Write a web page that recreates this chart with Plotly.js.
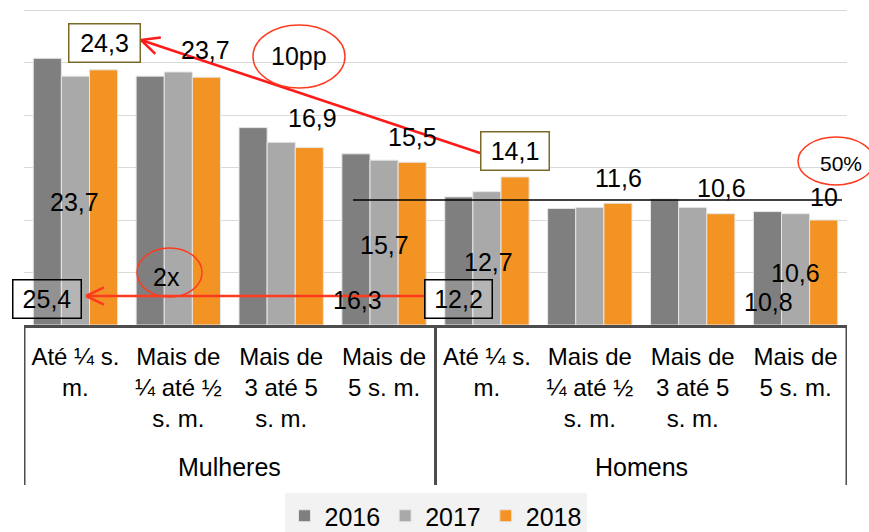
<!DOCTYPE html>
<html>
<head>
<meta charset="utf-8">
<script src="https://cdn.plot.ly/plotly-3.0.1.min.js"></script>
<style>html,body{margin:0;padding:0;background:#fff}</style>
</head>
<body>
<div id="chart" style="width:869px;height:532px"></div>
<script>
// ---- data ----
const groups = ['Mulheres','Mulheres','Mulheres','Mulheres','Homens','Homens','Homens','Homens'];
const categories = ['Até ¼ s.<br>m.','Mais de<br>¼ até ½<br>s. m.','Mais de<br>3 até 5<br>s. m.','Mais de<br>5 s. m.',
                    'Até ¼ s.<br>m.','Mais de<br>¼ até ½<br>s. m.','Mais de<br>3 até 5<br>s. m.','Mais de<br>5 s. m.'];
const seriesNames = ['2016','2017','2018'];
const v2016 = [25.4, 23.7, 18.8, 16.3, 12.2, 11.1, 12.0, 10.8];
const v2017 = [23.7, 24.1, 17.4, 15.7, 12.7, 11.2, 11.2, 10.6];
const v2018 = [24.3, 23.6, 16.9, 15.5, 14.1, 11.6, 10.6, 10.0];
const colors = ['#7f7f7f','#a9a9a9','#f39324'];

// ---- pixel helpers for annotations ----
const L = 24, R = 847, T = 5, B = 325;
const px = x => (x - L) / (R - L);
const py = y => (B - y) / (B - T);

const FONT = 'Liberation Sans, Arial, sans-serif';
const idx = categories.map((_, i) => i);
const vals = [v2016, v2017, v2018];
const traces = vals.map((v, i) => ({
  type: 'bar',
  name: seriesNames[i],
  x: idx,
  y: v,
  marker: {color: colors[i], line: {color: '#e6e6e6', width: 1}},
  hoverinfo: 'y'
}));

function txt(text, x, y, size) {
  return {text, x: px(x), y: py(y), xref: 'paper', yref: 'paper', showarrow: false,
          font: {family: FONT, size: size || 25, color: '#000'}, xanchor: 'center', yanchor: 'middle'};
}
function box(text, x0, y0, x1, y1, border, bg) {
  return {text, x: px((x0 + x1) / 2), y: py((y0 + y1) / 2), xref: 'paper', yref: 'paper', showarrow: false,
          font: {family: FONT, size: 25, color: '#000'}, xanchor: 'center', yanchor: 'middle',
          width: x1 - x0 - 2, height: y1 - y0 - 2, borderpad: 0, borderwidth: 1.5,
          bordercolor: border, bgcolor: bg};
}
const annotations = [
  box('24,3', 68, 23, 140, 62, '#7a6a2a', '#ffffff'),
  box('14,1', 480, 131, 549, 170, '#7a6a2a', '#ffffff'),
  box('25,4', 12, 279, 81, 318, '#000000', 'rgba(255,255,255,0.15)'),
  box('12,2', 424, 279, 492, 318, '#000000', 'rgba(255,255,255,0.15)'),
  txt('23,7', 205, 50),
  txt('10pp', 299, 56),
  txt('16,9', 312, 118),
  txt('15,5', 412, 137),
  txt('11,6', 618, 178),
  txt('10,6', 721, 188),
  txt('10', 824, 197),
  txt('50%', 841, 163, 21),
  txt('23,7', 74, 202),
  txt('15,7', 384, 245),
  txt('12,7', 488, 262),
  txt('10,6', 795, 273),
  txt('2x', 166, 277),
  txt('16,3', 357, 300),
  txt('10,8', 768, 302)
];

// group labels and dividers derived from the groups array
const groupNames = [...new Set(groups)];
const dividers = [-0.5];
groupNames.forEach(g => {
  const ii = idx.filter(i => groups[i] === g);
  const mid = (ii[0] + ii[ii.length - 1]) / 2;
  annotations.push({text: g, x: mid, y: py(467), xref: 'x', yref: 'paper', showarrow: false,
    font: {family: FONT, size: 25, color: '#000'}, xanchor: 'center', yanchor: 'middle'});
  dividers.push(ii[ii.length - 1] + 0.5);
});

function lineShape(x0, y0, x1, y1, color, width) {
  return {type: 'line', xref: 'paper', yref: 'paper', x0: px(x0), y0: py(y0), x1: px(x1), y1: py(y1),
          line: {color, width}};
}
function arrowHead(tx, ty, fx, fy, color) {
  const dx = fx - tx, dy = fy - ty, len = Math.hypot(dx, dy);
  const ux = dx / len, uy = dy / len, a = 0.45, s = 20;
  const c = Math.cos(a), sn = Math.sin(a);
  const p1 = [tx + s * (ux * c - uy * sn), ty + s * (ux * sn + uy * c)];
  const p2 = [tx + s * (ux * c + uy * sn), ty + s * (-ux * sn + uy * c)];
  return [lineShape(tx, ty, p1[0], p1[1], color, 2.5), lineShape(tx, ty, p2[0], p2[1], color, 2.5)];
}
function ellipse(x0, y0, x1, y1) {
  return {type: 'circle', xref: 'paper', yref: 'paper', x0: px(x0), y0: py(y0), x1: px(x1), y1: py(y1),
          line: {color: '#ff3b1f', width: 1.5}};
}
const red = '#ff1a1a';
const shapes = [
  lineShape(353, 200, 842, 200, '#000', 1.5),
  lineShape(480, 153, 141, 40, red, 2.5),
  ...arrowHead(141, 40, 480, 153, red),
  lineShape(424, 296, 86, 296, '#ff3b1f', 2.5),
  ...arrowHead(86, 296, 424, 296, '#ff3b1f'),
  ellipse(253, 25, 345, 88),
  ellipse(798, 137, 874, 185),
  ellipse(137, 248, 202, 297)
];
dividers.forEach(d => shapes.push({type: 'line', xref: 'x', yref: 'paper', x0: d, x1: d,
  y0: py(326), y1: py(485), line: {color: '#4d4d4d', width: 3}}));

const layout = {
  width: 869, height: 532,
  margin: {l: L, r: 869 - R, t: T, b: 532 - B, pad: 0, autoexpand: false},
  paper_bgcolor: '#fff', plot_bgcolor: '#fff',
  font: {family: FONT, size: 24, color: '#000'},
  barmode: 'group', bargap: 0.18, bargroupgap: 0,
  showlegend: true,
  legend: {orientation: 'h', x: 0.5, xanchor: 'center', y: py(516), yanchor: 'middle',
           bgcolor: '#f2f2f2', font: {family: FONT, size: 25}, itemwidth: 30, traceorder: 'normal'},
  xaxis: {type: 'linear', range: [-0.5, 7.5], tickvals: idx, ticktext: categories,
          showline: true, linecolor: '#4d4d4d', linewidth: 3, ticks: '', showgrid: false, zeroline: false,
          ticklabelstandoff: 8,
          tickfont: {family: FONT, size: 24, color: '#000'}, fixedrange: true},
  yaxis: {range: [0, 30.476], dtick: 5, showticklabels: false, showgrid: true, gridcolor: '#d9d9d9',
          gridwidth: 1, zeroline: false, showline: false, ticks: '', fixedrange: true},
  annotations, shapes
};
Plotly.newPlot('chart', traces, layout, {displayModeBar: false, staticPlot: true});
</script>
</body>
</html>
